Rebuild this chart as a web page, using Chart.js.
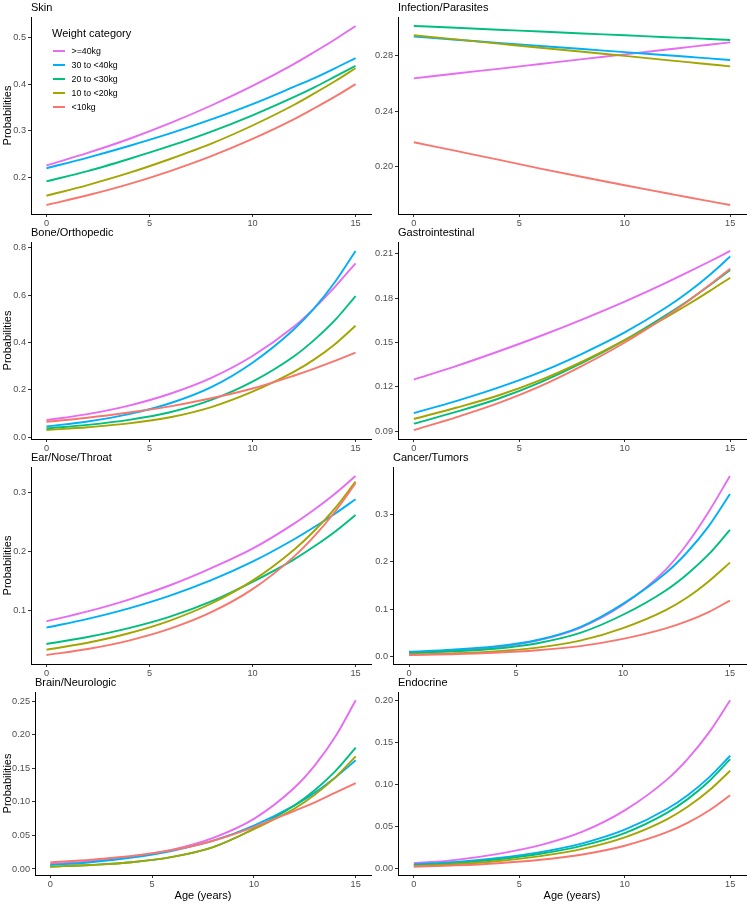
<!DOCTYPE html>
<html><head><meta charset="utf-8">
<script src="https://cdn.jsdelivr.net/npm/chart.js@4.4.1/dist/chart.umd.min.js"></script>
<style>
html,body{margin:0;padding:0;background:#fff;}
#root{position:relative;width:750px;height:904px;overflow:hidden;font-family:'Liberation Sans',Arial,Helvetica,sans-serif;}
#root canvas{position:absolute;}
.ptitle{position:absolute;font-size:11px;line-height:11px;color:#000;white-space:nowrap;}
.lgtitle{position:absolute;font-size:11px;line-height:11px;color:#000;white-space:nowrap;}
.lgkey{position:absolute;height:2px;}
.lglab{position:absolute;font-size:8.8px;line-height:14px;color:#000;white-space:nowrap;}
</style></head>
<body><div id="root"></div>
<script>
// ---------- DATA ----------
const ages = [0, 2, 4, 6, 8, 10, 12, 13, 14, 15];
const weightCategories = ['>=40kg', '30 to <40kg', '20 to <30kg', '10 to <20kg', '<10kg'];
const panelTitles = ['Skin', 'Infection/Parasites', 'Bone/Orthopedic', 'Gastrointestinal',
                     'Ear/Nose/Throat', 'Cancer/Tumors', 'Brain/Neurologic', 'Endocrine'];
const xTickLabels = ['0', '5', '10', '15'];

// rows: >=40kg, 30 to <40kg, 20 to <30kg, 10 to <20kg, <10kg  (values at each age)
const skinValues = [
  [0.225, 0.252, 0.282, 0.316, 0.354, 0.396, 0.443, 0.469, 0.496, 0.525],
  [0.219, 0.242, 0.267, 0.294, 0.324, 0.357, 0.394, 0.413, 0.434, 0.456],
  [0.191, 0.213, 0.239, 0.267, 0.298, 0.333, 0.372, 0.393, 0.416, 0.439],
  [0.160, 0.183, 0.209, 0.239, 0.272, 0.311, 0.355, 0.380, 0.406, 0.434],
  [0.140, 0.161, 0.185, 0.213, 0.245, 0.282, 0.324, 0.348, 0.373, 0.400]];
const skinTicks = ['0.2', '0.3', '0.4', '0.5'];

const infectionValues = [
  [0.2636, 0.2671, 0.2705, 0.2740, 0.2775, 0.2809, 0.2844, 0.2861, 0.2879, 0.2896],
  [0.2937, 0.2915, 0.2892, 0.2870, 0.2848, 0.2825, 0.2803, 0.2792, 0.2780, 0.2769],
  [0.3014, 0.3001, 0.2987, 0.2974, 0.2960, 0.2947, 0.2933, 0.2927, 0.2920, 0.2913],
  [0.2947, 0.2917, 0.2887, 0.2857, 0.2828, 0.2798, 0.2768, 0.2753, 0.2738, 0.2723],
  [0.2176, 0.2113, 0.2050, 0.1986, 0.1925, 0.1866, 0.1808, 0.1779, 0.1751, 0.1723]];
const infectionTicks = ['0.20', '0.24', '0.28'];

const boneValues = [
  [0.073, 0.098, 0.134, 0.184, 0.251, 0.343, 0.466, 0.545, 0.635, 0.734],
  [0.046, 0.067, 0.098, 0.144, 0.212, 0.315, 0.455, 0.545, 0.655, 0.786],
  [0.038, 0.053, 0.074, 0.106, 0.158, 0.235, 0.341, 0.411, 0.494, 0.596],
  [0.031, 0.043, 0.059, 0.085, 0.128, 0.193, 0.276, 0.329, 0.393, 0.471],
  [0.066, 0.083, 0.105, 0.131, 0.165, 0.206, 0.260, 0.290, 0.323, 0.357]];
const boneTicks = ['0.0', '0.2', '0.4', '0.6', '0.8'];

const gastroValues = [
  [0.1249, 0.1340, 0.1439, 0.1544, 0.1657, 0.1777, 0.1907, 0.1976, 0.2047, 0.2120],
  [0.1022, 0.1103, 0.1194, 0.1299, 0.1425, 0.1568, 0.1740, 0.1840, 0.1954, 0.2082],
  [0.0950, 0.1030, 0.1119, 0.1230, 0.1363, 0.1516, 0.1689, 0.1783, 0.1884, 0.1991],
  [0.0982, 0.1058, 0.1141, 0.1245, 0.1372, 0.1516, 0.1673, 0.1757, 0.1846, 0.1939],
  [0.0907, 0.0993, 0.1089, 0.1204, 0.1343, 0.1500, 0.1680, 0.1779, 0.1887, 0.2000]];
const gastroTicks = ['0.09', '0.12', '0.15', '0.18', '0.21'];

const entValues = [
  [0.0825, 0.0992, 0.1192, 0.1433, 0.1722, 0.2050, 0.2468, 0.2710, 0.2976, 0.3276],
  [0.0718, 0.0866, 0.1044, 0.1259, 0.1519, 0.1831, 0.2205, 0.2415, 0.2640, 0.2882],
  [0.0442, 0.0560, 0.0709, 0.0903, 0.1160, 0.1490, 0.1866, 0.2090, 0.2337, 0.2617],
  [0.0346, 0.0464, 0.0624, 0.0838, 0.1125, 0.1511, 0.2029, 0.2352, 0.2730, 0.3180],
  [0.0256, 0.0358, 0.0500, 0.0700, 0.0978, 0.1367, 0.1912, 0.2260, 0.2672, 0.3152]];
const entTicks = ['0.1', '0.2', '0.3'];

const cancerValues = [
  [0.0070, 0.0115, 0.0189, 0.0336, 0.0606, 0.1090, 0.1834, 0.2380, 0.3050, 0.3810],
  [0.0098, 0.0142, 0.0209, 0.0347, 0.0620, 0.1110, 0.1760, 0.2200, 0.2745, 0.3430],
  [0.0070, 0.0107, 0.0164, 0.0280, 0.0497, 0.0880, 0.1394, 0.1737, 0.2154, 0.2670],
  [0.0040, 0.0065, 0.0107, 0.0187, 0.0334, 0.0600, 0.0980, 0.1245, 0.1583, 0.1980],
  [0.0030, 0.0048, 0.0078, 0.0130, 0.0218, 0.0370, 0.0592, 0.0745, 0.0938, 0.1180]];
const cancerTicks = ['0.0', '0.1', '0.2', '0.3'];

const brainValues = [
  [0.0074, 0.0116, 0.0180, 0.0287, 0.0463, 0.0747, 0.1214, 0.1548, 0.1974, 0.2515],
  [0.0059, 0.0101, 0.0170, 0.0272, 0.0422, 0.0648, 0.0948, 0.1140, 0.1365, 0.1620],
  [0.0034, 0.0060, 0.0100, 0.0180, 0.0327, 0.0600, 0.0950, 0.1178, 0.1460, 0.1810],
  [0.0034, 0.0060, 0.0100, 0.0180, 0.0325, 0.0594, 0.0901, 0.1110, 0.1366, 0.1680],
  [0.0098, 0.0138, 0.0193, 0.0282, 0.0421, 0.0624, 0.0868, 0.0994, 0.1137, 0.1280]];
const brainTicks = ['0.00', '0.05', '0.10', '0.15', '0.20', '0.25'];

const endocrineValues = [
  [0.0060, 0.0101, 0.0173, 0.0277, 0.0437, 0.0690, 0.1056, 0.1307, 0.1618, 0.2000],
  [0.0048, 0.0077, 0.0123, 0.0194, 0.0298, 0.0460, 0.0706, 0.0874, 0.1083, 0.1340],
  [0.0036, 0.0062, 0.0107, 0.0174, 0.0271, 0.0420, 0.0660, 0.0827, 0.1037, 0.1300],
  [0.0028, 0.0049, 0.0087, 0.0146, 0.0232, 0.0369, 0.0584, 0.0736, 0.0926, 0.1162],
  [0.0020, 0.0035, 0.0061, 0.0102, 0.0165, 0.0269, 0.0430, 0.0544, 0.0689, 0.0870]];
const endocrineTicks = ['0.00', '0.05', '0.10', '0.15', '0.20'];

const panelValues = [skinValues, infectionValues, boneValues, gastroValues,
                     entValues, cancerValues, brainValues, endocrineValues];
const panelTicks = [skinTicks, infectionTicks, boneTicks, gastroTicks,
                    entTicks, cancerTicks, brainTicks, endocrineTicks];

// ---------- STYLE / LAYOUT ----------
const seriesColors = ['#E76BF3', '#00B0F6', '#00BF7D', '#A3A500', '#F8766D'];
const FONT = "'Liberation Sans', Arial, Helvetica, sans-serif";
const axisWidths = [31, 23, 31, 23, 31, 18, 35, 23];
const rowPlot = [[17, 214], [242, 439], [467, 664], [692, 875]];
const rowTitleTop = [2.4, 227.2, 451.9, 676.7];

const root = document.getElementById('root');

panelTitles.forEach((title, p) => {
  const col = p % 2, row = Math.floor(p / 2);
  const isLast = row === 3;
  const [pTop, pBot] = rowPlot[row];
  const xh = isLast ? 26 : 17;
  const padBottom = isLast ? 3 : 0;
  const cw = 375, ch = 8 + (pBot - pTop) + xh + padBottom;
  const cv = document.createElement('canvas');
  cv.width = cw; cv.height = ch;
  cv.style.left = (col * 375) + 'px';
  cv.style.top = (pTop - 8) + 'px';
  cv.style.width = cw + 'px'; cv.style.height = ch + 'px';
  root.appendChild(cv);

  const t = document.createElement('div');
  t.className = 'ptitle';
  t.textContent = title;
  t.style.left = (col * 375 + axisWidths[p]) + 'px';
  t.style.top = rowTitleTop[row] + 'px';
  root.appendChild(t);

  const vals = panelValues[p];
  const flat = vals.flat();
  const lo = Math.min(...flat), hi = Math.max(...flat);
  const ex = 0.05 * (hi - lo);
  const tickLabels = panelTicks[p];
  const tickVals = tickLabels.map(parseFloat);

  // dataset index 0 is drawn on top in Chart.js: put <10kg first
  const order = [4, 3, 2, 1, 0];
  const datasets = order.map(k => ({
    label: weightCategories[k],
    data: ages.map((a, i) => ({ x: a, y: vals[k][i] })),
    borderColor: seriesColors[k],
    backgroundColor: seriesColors[k],
    borderWidth: 1.9,
    pointRadius: 0,
    pointHoverRadius: 0,
    fill: false,
    cubicInterpolationMode: 'monotone'
  }));

  new Chart(cv, {
    type: 'line',
    data: { datasets },
    options: {
      responsive: false,
      animation: false,
      devicePixelRatio: 1,
      events: [],
      layout: { padding: { left: 0, right: 4, top: 8, bottom: padBottom } },
      plugins: { legend: { display: false }, tooltip: { enabled: false }, title: { display: false } },
      scales: {
        x: {
          type: 'linear',
          min: -0.75, max: 15.75,
          afterBuildTicks: s => { s.ticks = xTickLabels.map(v => ({ value: parseFloat(v) })); },
          afterFit: s => { s.height = xh; },
          ticks: {
            autoSkip: false, maxRotation: 0, minRotation: 0, padding: 1,
            color: '#4D4D4D', font: { family: FONT, size: 9.2 },
            callback: v => xTickLabels[xTickLabels.map(parseFloat).indexOf(v)] ?? ''
          },
          grid: { display: true, drawOnChartArea: false, drawTicks: true, tickLength: 3, color: '#333333', lineWidth: 1 },
          border: { display: true, color: '#000000', width: 1 },
          title: {
            display: isLast, text: 'Age (years)', color: '#000000',
            font: { family: FONT, size: 11, lineHeight: 1 }, padding: { top: 0, bottom: 0 }
          }
        },
        y: {
          type: 'linear',
          min: lo - ex, max: hi + ex,
          afterBuildTicks: s => { s.ticks = tickVals.map(v => ({ value: v })); },
          afterFit: s => { s.width = axisWidths[p]; },
          ticks: {
            autoSkip: false, padding: 2,
            color: '#4D4D4D', font: { family: FONT, size: 9.2 },
            callback: v => { const i = tickVals.indexOf(v); return i >= 0 ? tickLabels[i] : ''; }
          },
          grid: { display: true, drawOnChartArea: false, drawTicks: true, tickLength: 3, color: '#333333', lineWidth: 1 },
          border: { display: true, color: '#000000', width: 1 },
          title: {
            display: col === 0, text: 'Probabilities', color: '#000000',
            font: { family: FONT, size: 11, lineHeight: 1 }, padding: { top: 2, bottom: 0 }
          }
        }
      }
    }
  });
});

// legend (inside Skin panel)
const lgT = document.createElement('div');
lgT.className = 'lgtitle';
lgT.textContent = 'Weight category';
lgT.style.left = '52px'; lgT.style.top = '28px';
root.appendChild(lgT);
weightCategories.forEach((name, k) => {
  const cy = 51.3 + 14 * k;
  const key = document.createElement('div');
  key.className = 'lgkey';
  key.style.background = seriesColors[k];
  key.style.left = '53px'; key.style.width = '11.5px';
  key.style.top = (cy - 1) + 'px';
  root.appendChild(key);
  const lab = document.createElement('div');
  lab.className = 'lglab';
  lab.textContent = name;
  lab.style.left = '71.5px';
  lab.style.top = (cy - 7) + 'px';
  root.appendChild(lab);
});
</script>
</body></html>
